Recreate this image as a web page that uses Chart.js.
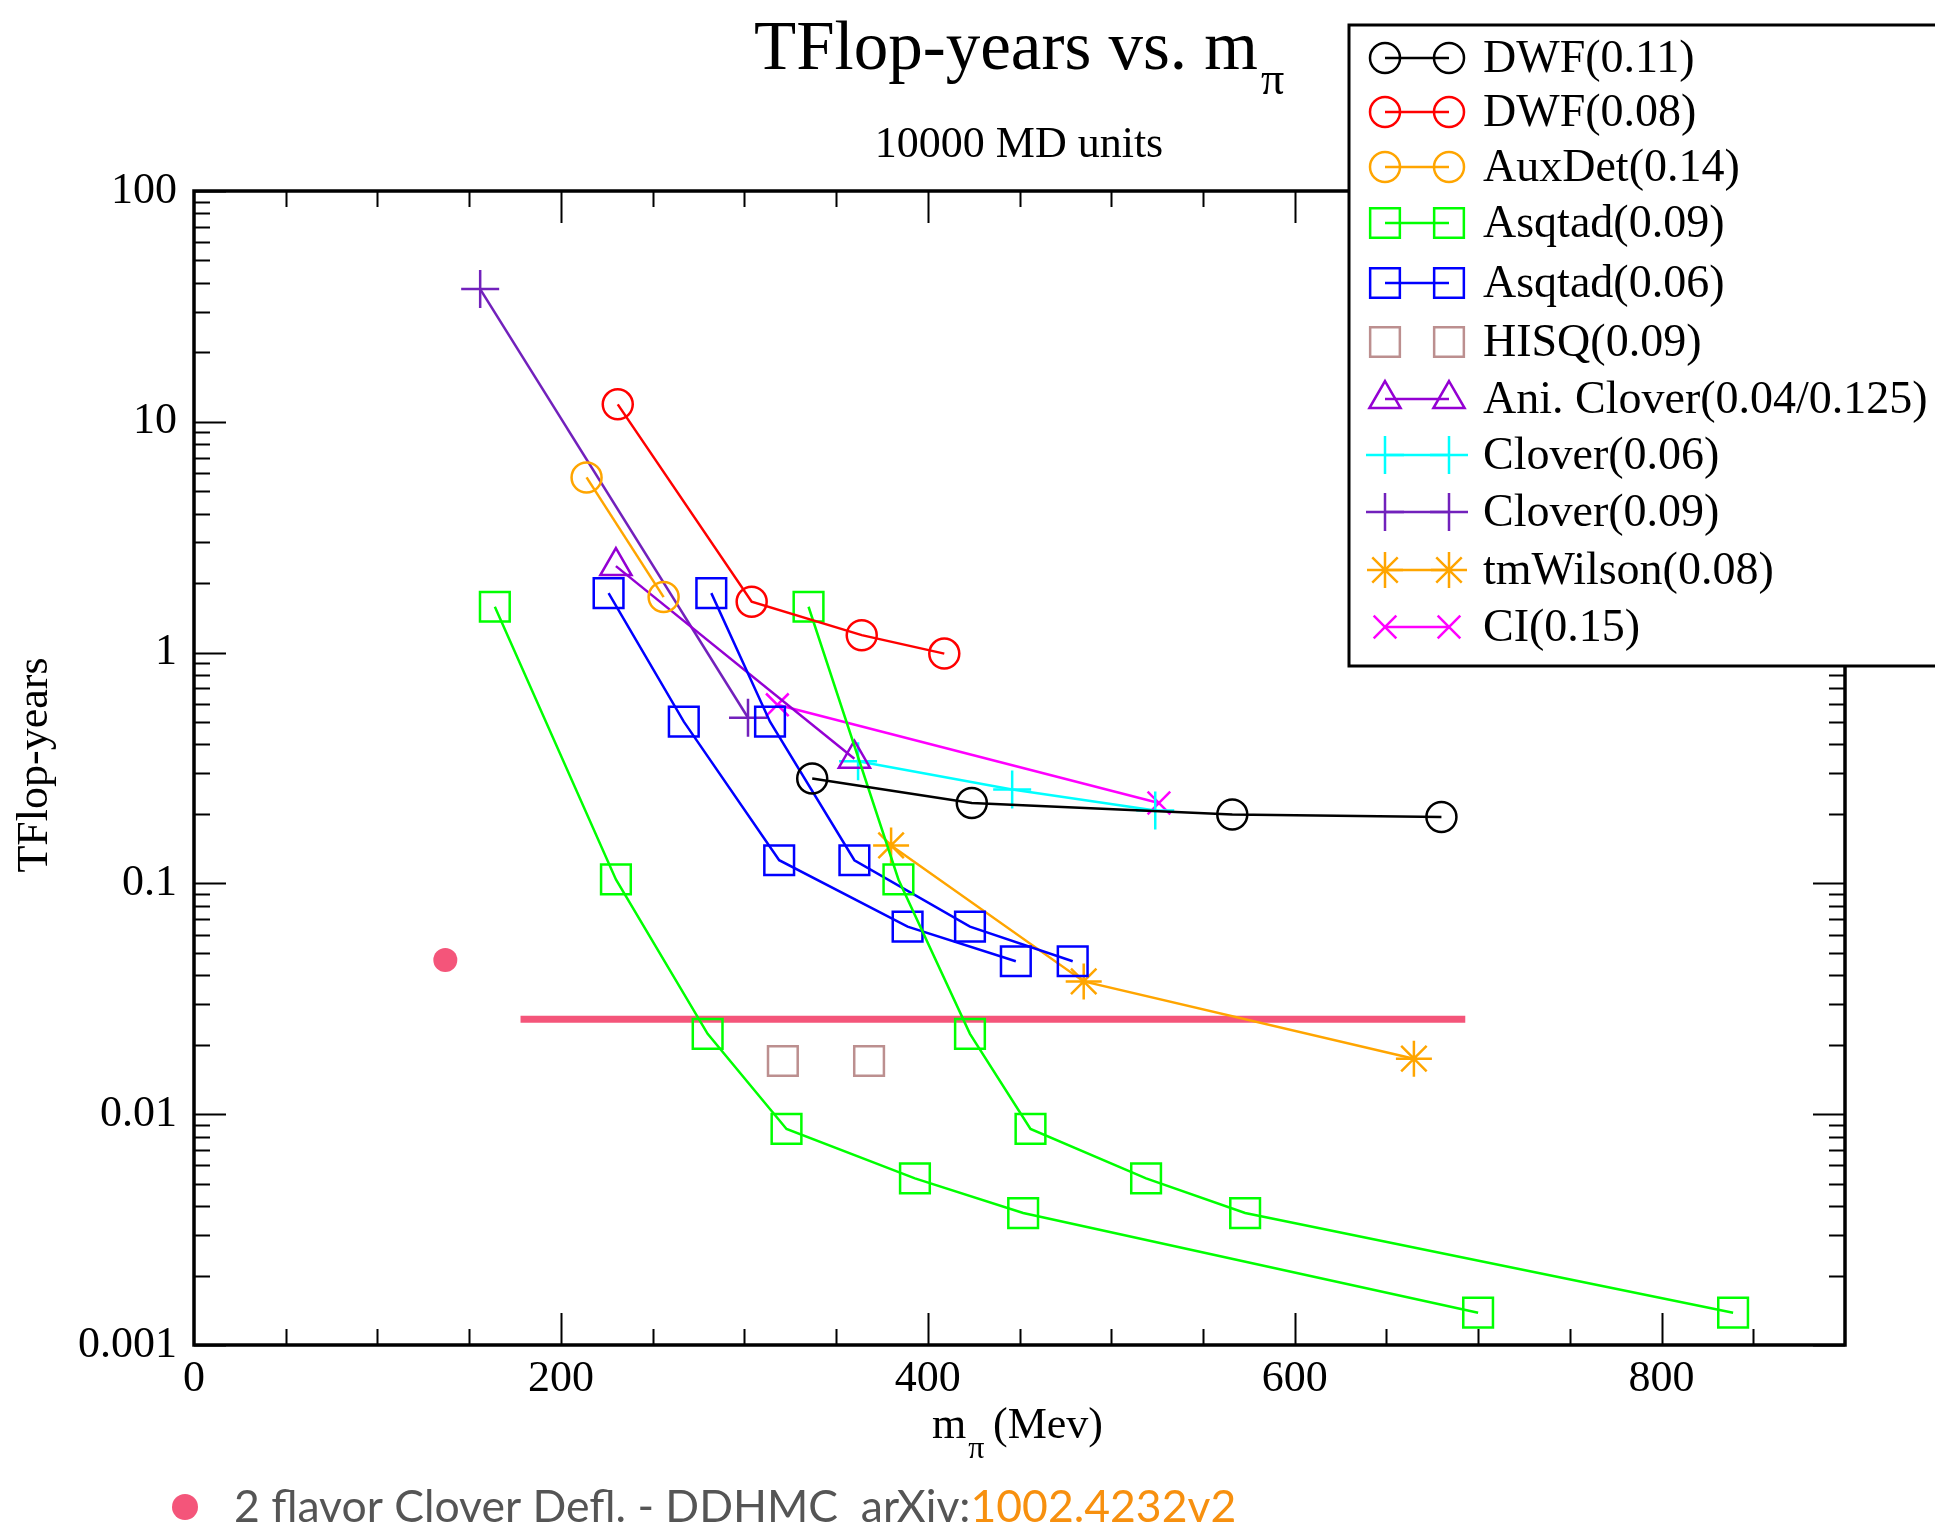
<!DOCTYPE html>
<html>
<head>
<meta charset="utf-8">
<script src="https://cdn.jsdelivr.net/npm/chart.js@4/dist/chart.umd.min.js"></script>
<style>
  html, body { margin: 0; padding: 0; background: #fff; }
  #wrap { width: 1935px; height: 1528px; }
</style>
</head>
<body>
<div id="wrap"><canvas id="cost-chart" width="1935" height="1528"></canvas></div>
<script>
//
// Values (m_pi in MeV, cost in TFlop-years).
//
var dwf011M = [337, 424, 566, 680];
var dwf011T = [0.285, 0.223, 0.199, 0.194];
var dwf008M = [231, 304, 364, 409];
var dwf008T = [11.9, 1.66, 1.19, 0.99];
var auxDetM = [214, 256];
var auxDetT = [5.74, 1.74];
var asq009aM = [164, 230, 280, 323, 393, 452, 700];
var asq009bM = [335, 384, 423, 456, 519, 573, 839];
var asq009T = [1.58, 0.104, 0.0223, 0.00863, 0.00527, 0.00373, 0.00138];
var asq006aM = [226, 267, 319, 389, 448];
var asq006bM = [282, 314, 360, 423, 479];
var asq006T = [1.81, 0.502, 0.126, 0.065, 0.046];
var hisqM = [321, 368];
var hisqT = [0.017, 0.017];
var aniCloverM = [230, 360];
var aniCloverT = [2.37, 0.347];
var clover006M = [362, 446, 524];
var clover006T = [0.338, 0.255, 0.207];
var clover009M = [156, 302];
var clover009T = [37.6, 0.522];
var tmWilsonM = [380, 485, 665];
var tmWilsonT = [0.146, 0.0376, 0.0174];
var ciM = [318, 526];
var ciT = [0.594, 0.223];
var ddhmcLineM = [178, 693];
var ddhmcLineT = [0.0258, 0.0258];
var ddhmcPointM = [137];
var ddhmcPointT = [0.0466];

var xTickValues = [0, 200, 400, 600, 800];
var yTickValues = [0.001, 0.01, 0.1, 1, 10, 100];
var yTickLabels = ["0.001", "0.01", "0.1", "1", "10", "100"];

var PINK = "#f4557a";
var SERIF = "'Liberation Serif', 'DejaVu Serif', serif";

function pts(xs, ys) {
    var out = [];
    for (var i = 0; i < xs.length; ++i) {
        out.push({x: xs[i], y: ys[i]});
    }
    return out;
}

// 
// One open-marker series in the xmgrace look.
// 
function series(label, xs, ys, color, style, radius, legend, line) {
    return {
        label: label,
        data: pts(xs, ys),
        showLine: line !== false,
        borderColor: color,
        backgroundColor: "rgba(0,0,0,0)",
        borderWidth: 2.5,
        pointStyle: style,
        pointRadius: radius,
        pointBorderColor: color,
        pointBackgroundColor: "rgba(0,0,0,0)",
        pointBorderWidth: 2.5,
        pointHoverRadius: radius,
        tension: 0,
        inLegend: legend
    };
}

var datasets = [
    series("DWF(0.11)", dwf011M, dwf011T, "#000000", "circle", 15, true),
    series("DWF(0.08)", dwf008M, dwf008T, "#ff0000", "circle", 15, true),
    series("AuxDet(0.14)", auxDetM, auxDetT, "#ffa500", "circle", 15, true),
    series("Asqtad(0.09)", asq009aM, asq009T, "#00ff00", "rect", 21, true),
    series("Asqtad(0.09)", asq009bM, asq009T, "#00ff00", "rect", 21, false),
    series("Asqtad(0.06)", asq006aM, asq006T, "#0000ff", "rect", 21, true),
    series("Asqtad(0.06)", asq006bM, asq006T, "#0000ff", "rect", 21, false),
    series("HISQ(0.09)", hisqM, hisqT, "#bc8f8f", "rect", 21, true, false),
    series("Ani. Clover(0.04/0.125)", aniCloverM, aniCloverT, "#9400d3", "triangle", 18, true),
    series("Clover(0.06)", clover006M, clover006T, "#00ffff", "cross", 19, true),
    series("Clover(0.09)", clover009M, clover009T, "#7221bc", "cross", 19, true),
    series("tmWilson(0.08)", tmWilsonM, tmWilsonT, "#ffa500", "star", 18, true),
    series("CI(0.15)", ciM, ciT, "#ff00ff", "crossRot", 16, true),
    {
        label: "DDHMC cost",
        data: pts(ddhmcLineM, ddhmcLineT),
        showLine: true,
        borderColor: PINK,
        borderWidth: 7,
        pointRadius: 0,
        inLegend: false
    },
    {
        label: "2 flavor Clover Defl. - DDHMC",
        data: pts(ddhmcPointM, ddhmcPointT),
        showLine: false,
        pointStyle: "circle",
        pointRadius: 12,
        pointBackgroundColor: PINK,
        pointBorderWidth: 0,
        inLegend: false
    }
];

// 
// Frame, inside ticks on all four sides, titles, boxed legend and the note.
// 
var gracePlugin = {
    id: "grace",
    beforeDatasetsDraw: function (chart) {
        var ctx = chart.ctx, a = chart.chartArea;
        var xs = chart.scales.x, ys = chart.scales.y;
        ctx.save();
        ctx.strokeStyle = "#000";
        ctx.lineWidth = 2;
        ctx.beginPath();
        for (var v = 50; v < 900; v += 50) {
            var px = Math.round(xs.getPixelForValue(v)) + 0.5;
            var len = (v % 200 === 0) ? 32 : 16;
            ctx.moveTo(px, a.bottom); ctx.lineTo(px, a.bottom - len);
            ctx.moveTo(px, a.top); ctx.lineTo(px, a.top + len);
        }
        for (var d = -3; d <= 2; ++d) {
            for (var k = 1; k <= 9; ++k) {
                var val = k * Math.pow(10, d);
                if (val > 100.0001) {
                    break;
                }
                var py = Math.round(ys.getPixelForValue(val)) + 0.5;
                var l = (k === 1) ? 32 : 16;
                ctx.moveTo(a.left, py); ctx.lineTo(a.left + l, py);
                ctx.moveTo(a.right, py); ctx.lineTo(a.right - l, py);
            }
        }
        ctx.stroke();
        ctx.lineWidth = 3.5;
        ctx.strokeRect(a.left, a.top, a.right - a.left, a.bottom - a.top);
        ctx.restore();
    },
    afterDraw: function (chart) {
        var ctx = chart.ctx;
        ctx.save();
        ctx.fillStyle = "#000";
        ctx.textBaseline = "alphabetic";

        // Title with subscript pi
        ctx.font = "69px " + SERIF;
        ctx.textAlign = "left";
        var t = "TFlop-years vs. m";
        ctx.fillText(t, 754, 69);
        var tw = ctx.measureText(t).width;
        ctx.font = "46px " + SERIF;
        ctx.fillText("\u03c0", 754 + tw + 3, 94);

        ctx.font = "44px " + SERIF;
        ctx.textAlign = "center";
        ctx.fillText("10000 MD units", 1019, 157);

        // x axis title
        ctx.textAlign = "left";
        ctx.font = "44px " + SERIF;
        ctx.fillText("m", 932, 1438);
        var mw = ctx.measureText("m").width;
        ctx.font = "32px " + SERIF;
        ctx.fillText("\u03c0", 932 + mw + 2, 1458);
        ctx.font = "44px " + SERIF;
        ctx.fillText("(Mev)", 993, 1438);

        // y axis title
        ctx.save();
        ctx.translate(47, 765);
        ctx.rotate(-Math.PI / 2);
        ctx.textAlign = "center";
        ctx.font = "44px " + SERIF;
        ctx.fillText("TFlop-years", 0, 0);
        ctx.restore();

        // legend box
        var bx = 1349, by = 25, bw = 620, bh = 641;
        ctx.fillStyle = "#fff";
        ctx.fillRect(bx, by, bw, bh);
        ctx.strokeStyle = "#000";
        ctx.lineWidth = 3;
        ctx.strokeRect(bx, by, bw, bh);

        var rowY = [58, 112, 167, 223, 283, 342, 399, 455, 512, 570, 627];
        var row = 0;
        chart.data.datasets.forEach(function (ds) {
            if (!ds.inLegend) {
                return;
            }
            var y = rowY[row];
            var x1 = 1385, x2 = 1449;
            ctx.strokeStyle = ds.borderColor;
            ctx.fillStyle = "rgba(0,0,0,0)";
            ctx.lineWidth = 2.5;
            if (ds.showLine) {
                ctx.beginPath();
                ctx.moveTo(x1, y);
                ctx.lineTo(x2, y);
                ctx.stroke();
            }
            var opts = {pointStyle: ds.pointStyle, radius: ds.pointRadius, rotation: 0, borderWidth: 2.5};
            Chart.helpers.drawPoint(ctx, opts, x1, y);
            Chart.helpers.drawPoint(ctx, opts, x2, y);
            ctx.fillStyle = "#000";
            ctx.font = "46px " + SERIF;
            ctx.textAlign = "left";
            ctx.textBaseline = "middle";
            ctx.fillText(ds.label, 1483, y + 2);
            row++;
        });

        // note under the plot
        ctx.fillStyle = PINK;
        ctx.beginPath();
        ctx.arc(185, 1507, 13, 0, 2 * Math.PI);
        ctx.fill();
        var part1 = "2 flavor Clover Defl. - DDHMC  arXiv:";
        var part2 = "1002.4232v2";
        ctx.textBaseline = "alphabetic";
        ctx.textAlign = "left";
        var size = 44;
        ctx.font = size + "px Lato, 'Open Sans', sans-serif";
        var total = ctx.measureText(part1 + part2).width;
        size = size * 1002 / total;
        ctx.font = size.toFixed(1) + "px Lato, 'Open Sans', sans-serif";
        ctx.fillStyle = "#555555";
        ctx.fillText(part1, 234, 1522);
        var w1 = ctx.measureText(part1).width;
        ctx.fillStyle = "#f7900f";
        ctx.fillText(part2, 234 + w1, 1522);
        ctx.restore();
    }
};

(function () {
    var context = document.getElementById("cost-chart").getContext("2d");

    new Chart(context, {
        type: "scatter",
        data: {datasets: datasets},
        options: {
            responsive: false,
            animation: false,
            events: [],
            layout: {padding: {top: 191, right: 90, left: 0, bottom: 0}},
            plugins: {
                legend: {display: false},
                title: {display: false},
                tooltip: {enabled: false}
            },
            scales: {
                x: {
                    type: "linear",
                    min: 0,
                    max: 900,
                    grid: {display: false, drawTicks: false},
                    border: {display: false},
                    afterBuildTicks: function (scale) {
                        scale.ticks = xTickValues.map(function (v) { return {value: v}; });
                    },
                    afterFit: function (scale) {
                        scale.height = 183;
                    },
                    ticks: {
                        padding: 8,
                        maxRotation: 0,
                        color: "#000",
                        font: {family: SERIF, size: 44},
                        callback: function (v) { return String(v); }
                    }
                },
                y: {
                    type: "logarithmic",
                    min: 0.001,
                    max: 100,
                    grid: {display: false, drawTicks: false},
                    border: {display: false},
                    afterBuildTicks: function (scale) {
                        scale.ticks = yTickValues.map(function (v) { return {value: v}; });
                    },
                    afterFit: function (scale) {
                        scale.width = 194;
                    },
                    ticks: {
                        padding: 17,
                        color: "#000",
                        font: {family: SERIF, size: 44},
                        callback: function (v) {
                            var i = yTickValues.indexOf(v);
                            return i >= 0 ? yTickLabels[i] : "";
                        }
                    }
                }
            }
        },
        plugins: [gracePlugin]
    });
}());
</script>
</body>
</html>
